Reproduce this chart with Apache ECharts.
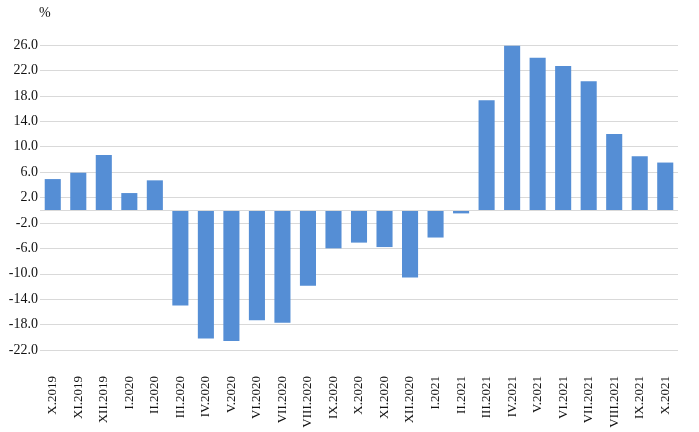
<!DOCTYPE html>
<html>
<head>
<meta charset="utf-8">
<script src="https://cdn.jsdelivr.net/npm/echarts@6/dist/echarts.min.js"></script>
<style>html,body{margin:0;padding:0;background:#fff}#c{width:699px;height:432px}</style>
</head>
<body>
<div id="c"></div>
<script>
const categories = ["X.2019","XI.2019","XII.2019","I.2020","II.2020","III.2020","IV.2020","V.2020","VI.2020","VII.2020","VIII.2020","IX.2020","X.2020","XI.2020","XII.2020","I.2021","II.2021","III.2021","IV.2021","V.2021","VI.2021","VII.2021","VIII.2021","IX.2021","X.2021"];
const values = [4.9, 5.9, 8.7, 2.7, 4.7, -15.0, -20.2, -20.6, -17.3, -17.7, -11.9, -6.0, -5.1, -5.8, -10.6, -4.3, -0.5, 17.3, 25.9, 24.0, 22.7, 20.3, 12.0, 8.5, 7.5];
const yTicks = [-22, -18, -14, -10, -6, -2, 2, 6, 10, 14, 18, 22, 26];
const yUnit = "%";

const chart = echarts.init(document.getElementById('c'), null, {renderer: 'canvas'});
chart.setOption({
  animation: false,
  backgroundColor: '#fff',
  title: {
    text: yUnit, left: 34, top: 1,
    textStyle: {fontFamily: 'Liberation Serif', fontSize: 14, fontWeight: 'normal', color: '#111'}
  },
  grid: {left: 40, right: 21, top: 45, bottom: 82, containLabel: false},
  xAxis: {
    type: 'category',
    data: categories,
    position: 'bottom',
    axisLine: {show: false, onZero: false},
    axisTick: {show: false},
    axisLabel: {
      rotate: 90, margin: 26, interval: 0,
      fontFamily: 'Liberation Serif', fontSize: 13, color: '#111'
    }
  },
  yAxis: {
    type: 'value',
    min: -22, max: 26, interval: 4,
    axisLine: {show: false},
    axisTick: {show: false, customValues: yTicks},
    axisLabel: {
      customValues: yTicks, margin: 2,
      formatter: v => v.toFixed(1),
      fontFamily: 'Liberation Serif', fontSize: 14, color: '#111'
    },
    splitLine: {show: true, lineStyle: {color: '#d9d9d9', width: 1}}
  },
  series: [{
    type: 'bar',
    data: values,
    barCategoryGap: '37%',
    itemStyle: {color: '#558ed5'},
    markLine: {
      silent: true, symbol: 'none', label: {show: false},
      lineStyle: {color: '#d9d9d9', type: 'solid', width: 1},
      data: [{yAxis: 0}]
    }
  }]
});
</script>
</body>
</html>
